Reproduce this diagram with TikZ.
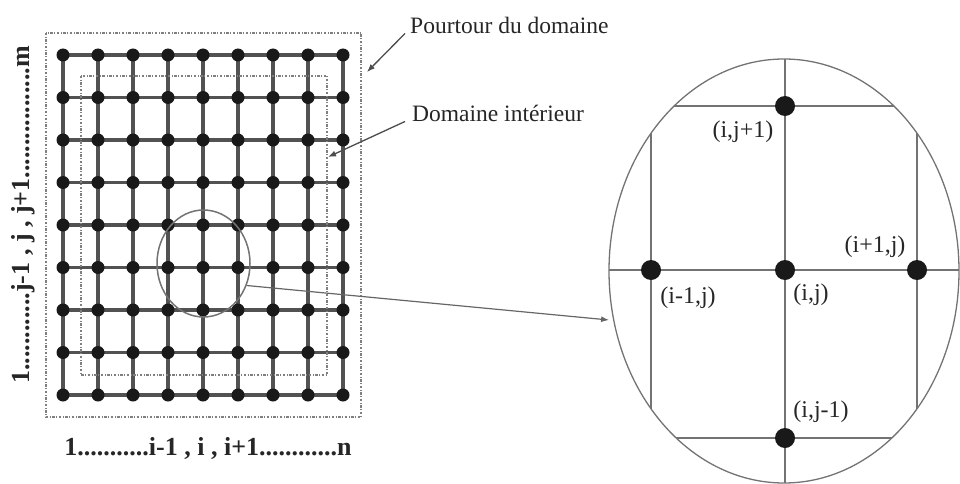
\documentclass[tikz,border=0pt]{standalone}
\usepackage{fontspec}
\setmainfont{Liberation Serif}
\usetikzlibrary{arrows.meta,shapes.geometric,backgrounds,calc}
\begin{document}
\begin{tikzpicture}[x=1pt,y=-1pt,
  gdot/.style={circle,fill=black!90,inner sep=0pt,minimum size=13pt},
  bdot/.style={circle,fill=black!90,inner sep=0pt,minimum width=19pt,minimum height=20pt},
  gline/.style={line width=3.4pt,draw=black!68},
  zline/.style={line width=1.3pt,draw=black!55},
  border/.style={line width=1.5pt,draw=black!50,dash pattern=on 2.5pt off 1.5pt on 1pt off 1.5pt},
  lbl/.style={font=\fontsize{23.5}{26}\selectfont,inner sep=0pt,text=black!85},
  plbl/.style={font=\fontsize{24}{26}\selectfont,inner sep=0pt,text=black!85},
  axis/.style={font=\fontsize{26}{28}\selectfont\bfseries,inner sep=0pt,text=black!85},
  arr/.style={line width=1.3pt,draw=black!70,-{Latex[length=8pt,width=6pt]}}
]
\useasboundingbox (0,0) rectangle (960,484);

% domain borders
\draw[border] (46,33) rectangle (361,417);
\draw[border] (81,76) rectangle (327,375);

% grid nodes
\foreach \i in {0,...,8}{
  \foreach \j in {0,...,8}{
    \node[gdot] (g-\i-\j) at (63+35*\i,55+42.5*\j) {};
  }
}
\begin{scope}[on background layer]
  \foreach \k in {0,...,8}{
    \draw[gline] (g-0-\k.center) -- (g-8-\k.center);
    \draw[gline] (g-\k-0.center) -- (g-\k-8.center);
  }
\end{scope}

% zoom circle
\node[ellipse,draw=black!55,line width=1.5pt,inner sep=0pt,minimum width=93pt,minimum height=107pt] (zoom) at (203.5,263.5) {};

% axis labels
\node[axis] (ax) at (208,448) {1...........i-1 , i , i+1............n};
\node[axis,rotate=90] (ay) at (23,215) {1............j-1 , j , j+1.................m};

% annotations
\node[lbl,anchor=west] (pt) at (410,25) {Pourtour du domaine};
\coordinate (pa) at (367,72);
\draw[arr] ([xshift=-5pt]pt.south west) -- (pa);
\node[lbl,anchor=west] (di) at (412,113) {Domaine intérieur};
\coordinate (da) at (328,157);
\draw[arr] ([xshift=-7pt]di.south west) -- (da);

% enlarged view
\node[ellipse,draw=black!55,line width=1.3pt,inner sep=0pt,minimum width=350pt,minimum height=424pt] (big) at (784,271) {};
\node[bdot] (nt) at (785,106) {};
\node[bdot] (nl) at (651,270) {};
\node[bdot] (nc) at (785,270) {};
\node[bdot] (nr) at (917,270) {};
\node[bdot] (nb) at (785,438) {};
\begin{scope}[on background layer]
  \clip (784,271) ellipse [x radius=175, y radius=212];
  \draw[zline] (nc.center) -- (nt.center) -- ++(0,-80);
  \draw[zline] (nc.center) -- (nb.center) -- ++(0,80);
  \draw[zline] (nc.center) -- (nl.center) -- ++(-80,0);
  \draw[zline] (nc.center) -- (nr.center) -- ++(80,0);
  \draw[zline] ([xshift=-150pt]nt.center) -- ([xshift=150pt]nt.center);
  \draw[zline] ([xshift=-150pt]nb.center) -- ([xshift=150pt]nb.center);
  \draw[zline] ([yshift=-180pt]nl.center) -- ([yshift=180pt]nl.center);
  \draw[zline] ([yshift=-180pt]nr.center) -- ([yshift=180pt]nr.center);
\end{scope}

\node[plbl] (lt) at (743,132) {(i,j+1)};
\node[plbl] (lr) at (875,247) {(i+1,j)};
\node[plbl] (ll) at (688,298) {(i-1,j)};
\node[plbl] (lc) at (811,295) {(i,j)};
\node[plbl] (lb) at (821,412) {(i,j-1)};

% connector
\draw[line width=1.2pt,draw=black!60,-{Latex[length=8pt,width=6pt]}] (zoom.-27) -- ([xshift=-4pt]big.196);
\end{tikzpicture}
\end{document}
